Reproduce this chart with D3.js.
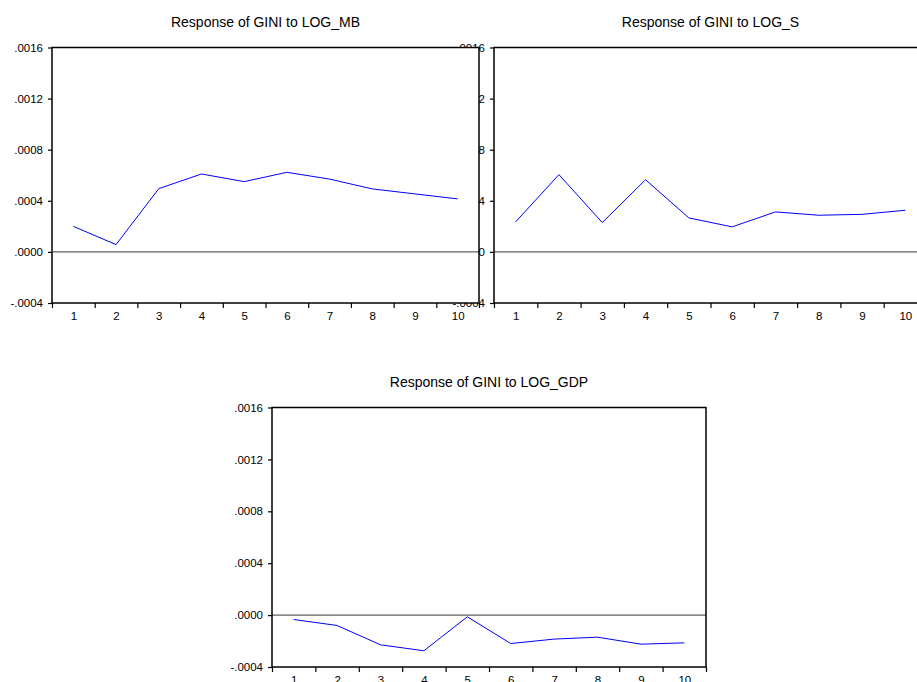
<!DOCTYPE html>
<html>
<head>
<meta charset="utf-8">
<script src="https://cdn.jsdelivr.net/npm/d3@7"></script>
<style>
  body { margin: 0; background: #fff; }
  svg { display: block; }
</style>
</head>
<body>
<div id="chart"></div>
<script>
// impulse responses, periods 1..10
var periods = [1,2,3,4,5,6,7,8,9,10];
var respMB  = [0.000200, 0.000057, 0.000495, 0.000610, 0.000550, 0.000623, 0.000570, 0.000493, 0.000454, 0.000415];
var respS   = [0.000235, 0.000605, 0.000230, 0.000565, 0.000266, 0.000196, 0.000313, 0.000287, 0.000294, 0.000326];
var respGDP = [-0.000034, -0.000080, -0.000229, -0.000275, -0.000013, -0.000219, -0.000185, -0.000170, -0.000224, -0.000214];

var yTicks = [-0.0004, 0, 0.0004, 0.0008, 0.0012, 0.0016];
var yTickLabels = ["-.0004", ".0000", ".0004", ".0008", ".0012", ".0016"];

var titleMB  = "Response of GINI to LOG_MB";
var titleS   = "Response of GINI to LOG_S";
var titleGDP = "Response of GINI to LOG_GDP";

var W = 917, H = 682;
var font = "'Liberation Sans', Arial, sans-serif";

var svg = d3.select("#chart")
            .append("svg")
            .attr("width", W)
            .attr("height", H);

function drawPanel(left, top, w, h, values, title) {
    var g = svg.append("g")
        .attr("transform", "translate(" + left + "," + top + ")");

    var x = d3.scaleLinear().domain([0.5, 10.5]).range([0, w]);
    var y = d3.scaleLinear().domain([-0.0004, 0.0016]).range([h, 0]);

    // white plot area (covers neighbour labels like the original)
    g.append("rect")
        .attr("x", 0).attr("y", 0)
        .attr("width", w).attr("height", h)
        .attr("fill", "#fff");

    // y axis
    var yAxis = g.append("g")
        .call(d3.axisLeft(y)
            .tickValues(yTicks)
            .tickFormat(function(d, i) { return yTickLabels[i]; })
            .tickSize(4)
            .tickPadding(5));
    yAxis.select(".domain").remove();

    // x tick marks at period boundaries
    var xTicks = g.append("g")
        .attr("transform", "translate(0," + h + ")")
        .call(d3.axisBottom(x)
            .tickValues(d3.range(0.5, 11, 1))
            .tickFormat("")
            .tickSize(5));
    xTicks.select(".domain").remove();

    // x labels at period centres
    var xLabels = g.append("g")
        .attr("transform", "translate(0," + h + ")")
        .call(d3.axisBottom(x)
            .tickValues(periods)
            .tickSize(0)
            .tickPadding(9));
    xLabels.select(".domain").remove();

    svg.selectAll(".tick text")
        .attr("font-family", font)
        .attr("font-size", "11.5px")
        .attr("fill", "#000");
    svg.selectAll(".tick line")
        .attr("stroke", "#000")
        .attr("stroke-width", 1.2);

    // zero line
    g.append("line")
        .attr("x1", 0).attr("x2", w)
        .attr("y1", y(0)).attr("y2", y(0))
        .attr("stroke", "#606060")
        .attr("stroke-width", 1.2);

    // response line
    var line = d3.line()
        .x(function(d, i) { return x(periods[i]); })
        .y(function(d) { return y(d); });

    g.append("path")
        .datum(values)
        .attr("d", line)
        .attr("fill", "none")
        .attr("stroke", "#0000ff")
        .attr("stroke-width", 1);

    // frame
    g.append("rect")
        .attr("x", 0).attr("y", 0)
        .attr("width", w).attr("height", h)
        .attr("fill", "none")
        .attr("stroke", "#000")
        .attr("stroke-width", 1.5);

    g.append("text")
        .attr("x", w / 2)
        .attr("y", -21)
        .attr("text-anchor", "middle")
        .attr("font-family", font)
        .attr("font-size", "14px")
        .attr("fill", "#000")
        .text(title);
}

// right panel first so the left panel's plot area hides its tick labels
drawPanel(494, 47.5, 433, 255.5, respS, titleS);
drawPanel(52, 47.5, 427, 255.5, respMB, titleMB);
drawPanel(272, 407.5, 434, 259.5, respGDP, titleGDP);
</script>
</body>
</html>
